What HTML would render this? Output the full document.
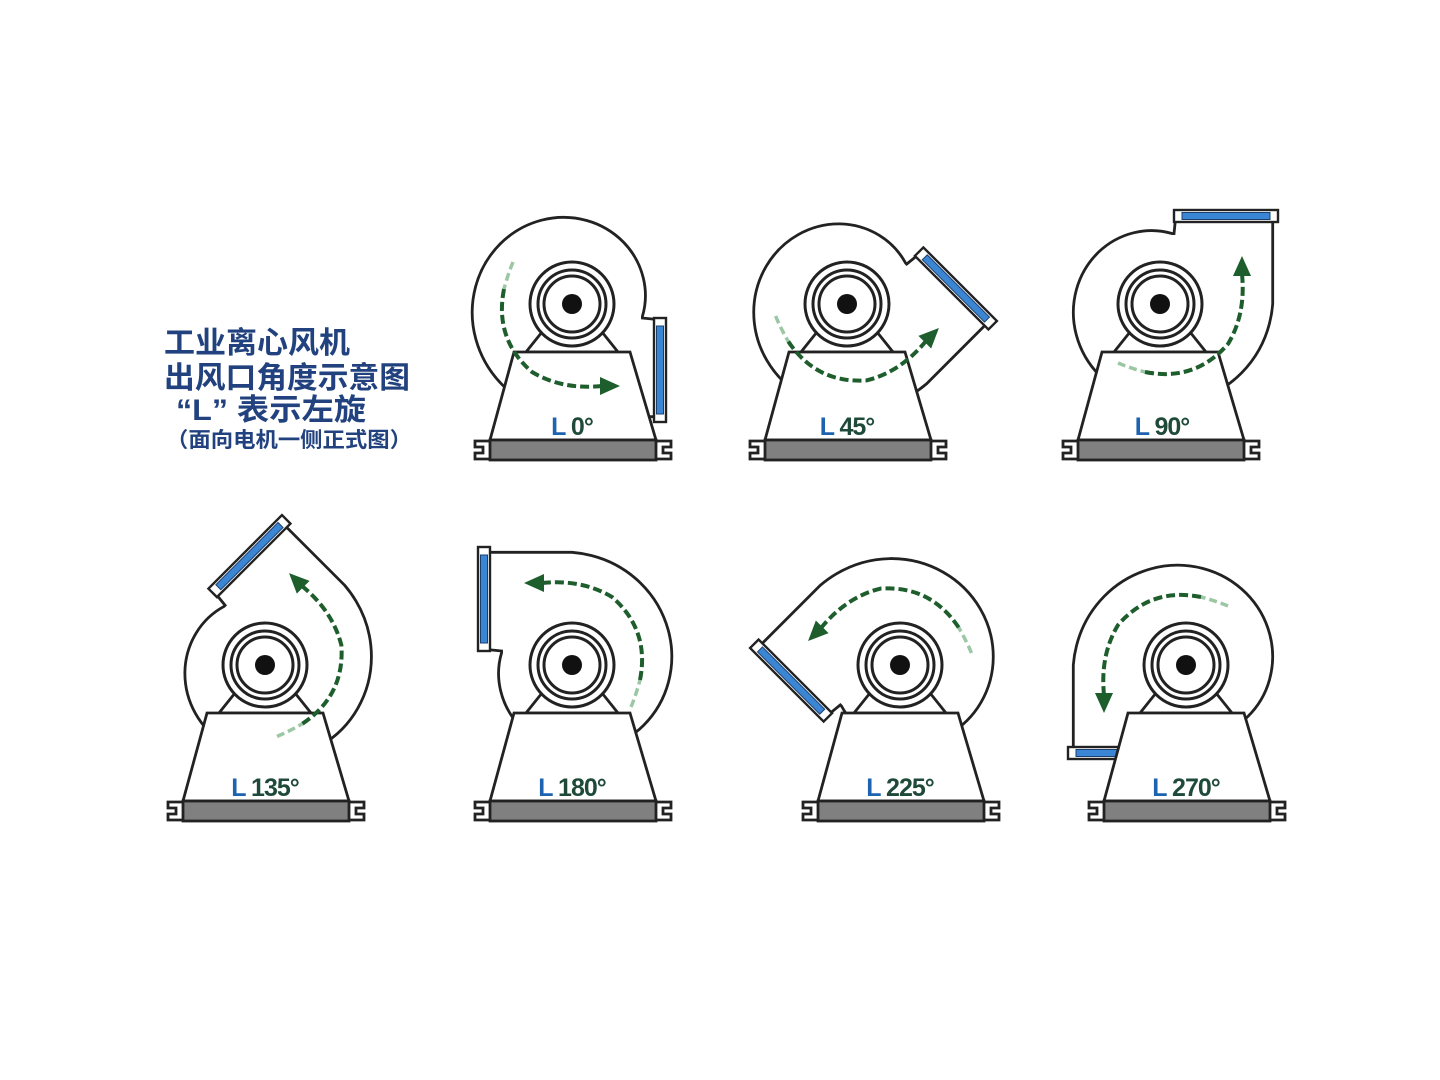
<!DOCTYPE html>
<html><head><meta charset="utf-8"><style>
html,body{margin:0;padding:0;background:#fff;}
svg{display:block;}
.t{font-family:"Liberation Sans","Noto Sans CJK SC",sans-serif;font-weight:bold;fill:#22427f;}
.lb{font-family:"Liberation Sans",sans-serif;font-size:25px;font-weight:bold;letter-spacing:-1px;}
</style></head><body>
<svg width="1440" height="1080" viewBox="0 0 1440 1080" xmlns="http://www.w3.org/2000/svg">
<defs>
<g id="scroll">
 <path d="M90,16 L70.4,14 L70.4,12.4 A73.7,73.7 0 0 0 71.3,-26 A78,78 0 0 0 51.7,-61.6 A82.6,82.6 0 0 0 14.7,-83.5 A87,87 0 0 0 -30.5,-83.8 A91.4,91.4 0 0 0 -71.7,-60.2 A95.8,95.8 0 0 0 -96.5,-17 A100.2,100.2 0 0 0 -96.2,35 A104.6,104.6 0 0 0 -68.7,81.8 A109,109 0 0 0 -19.3,109.5 A112,112 0 0 0 0,112.7 L90,112.7 Z" fill="#fff" stroke="#222" stroke-width="2.8"/>
 <rect x="82" y="14" width="12" height="104" fill="#fff" stroke="#222" stroke-width="2.4"/>
 <rect x="84.5" y="22" width="7" height="88" fill="#3b86d4" stroke="#1b3f6e" stroke-width="1"/>
</g>
<g id="arrow">
 <path d="M-59,-42 Q-64,-30 -68,-15" fill="none" stroke="#9cc7a4" stroke-width="3.5" stroke-dasharray="8 4"/>
 <path d="M-68,-15 Q-78,35 -40,68 Q-10,86 30,82" fill="none" stroke="#1d5e2c" stroke-width="4" stroke-dasharray="9 4"/>
 <path d="M28,73 L48,82 L28,91 Z" fill="#1d5e2c"/>
</g>
<g id="base">
 <polygon points="-30,28 30,28 46,48 -46,48" fill="#fff" stroke="#222" stroke-width="2.8"/>
 <circle r="42" fill="#fff" stroke="#222" stroke-width="3"/>
 <circle r="34" fill="#fff" stroke="#222" stroke-width="3"/>
 <circle r="28" fill="#fff" stroke="#222" stroke-width="3"/>
 <circle r="10" fill="#111"/>
 <polygon points="-58,48 58,48 84,136 -82,136" fill="#fff" stroke="#222" stroke-width="2.8"/>
 <rect x="-82" y="136" width="166" height="20" fill="#808080" stroke="#222" stroke-width="2.8"/>
 <path d="M-82,137 H-97 V143 H-89 V149 H-97 V155 H-82" fill="none" stroke="#222" stroke-width="2.8"/>
 <path d="M84,137 H99 V143 H91 V149 H99 V155 H84" fill="none" stroke="#222" stroke-width="2.8"/>
</g>
</defs>

<text class="t" x="164" y="353" font-size="30" textLength="186" lengthAdjust="spacingAndGlyphs">工业离心风机</text>
<text class="t" x="164" y="388" font-size="30" textLength="246" lengthAdjust="spacingAndGlyphs">出风口角度示意图</text>
<text class="t" x="176" y="420" font-size="30" textLength="190" lengthAdjust="spacingAndGlyphs">“L” 表示左旋</text>
<text class="t" x="166" y="447" font-size="21" textLength="246" lengthAdjust="spacingAndGlyphs">（面向电机一侧正式图）</text>

<g transform="translate(572,304)">
 <use href="#scroll"/><use href="#base"/><use href="#arrow"/>
 <text class="lb" x="0" y="131" text-anchor="middle"><tspan fill="#1e63b0">L</tspan><tspan fill="#1f4a3a"> 0°</tspan></text>
</g>
<g transform="translate(847,304)">
 <use href="#scroll" transform="rotate(-45)"/><use href="#base"/><use href="#arrow" transform="rotate(-45)"/>
 <text class="lb" x="0" y="131" text-anchor="middle"><tspan fill="#1e63b0">L</tspan><tspan fill="#1f4a3a"> 45°</tspan></text>
</g>
<g transform="translate(1160,304)">
 <use href="#scroll" transform="rotate(-90)"/><use href="#base"/><use href="#arrow" transform="rotate(-90)"/>
 <text class="lb" x="2" y="131" text-anchor="middle"><tspan fill="#1e63b0">L</tspan><tspan fill="#1f4a3a"> 90°</tspan></text>
</g>
<g transform="translate(265,665)">
 <use href="#scroll" transform="rotate(-135)"/><use href="#base"/><use href="#arrow" transform="rotate(-135)"/>
 <text class="lb" x="0" y="131" text-anchor="middle"><tspan fill="#1e63b0">L</tspan><tspan fill="#1f4a3a"> 135°</tspan></text>
</g>
<g transform="translate(572,665)">
 <use href="#scroll" transform="rotate(-180)"/><use href="#base"/><use href="#arrow" transform="rotate(-180)"/>
 <text class="lb" x="0" y="131" text-anchor="middle"><tspan fill="#1e63b0">L</tspan><tspan fill="#1f4a3a"> 180°</tspan></text>
</g>
<g transform="translate(900,665)">
 <use href="#scroll" transform="rotate(-225)"/><use href="#base"/><use href="#arrow" transform="rotate(-225)"/>
 <text class="lb" x="0" y="131" text-anchor="middle"><tspan fill="#1e63b0">L</tspan><tspan fill="#1f4a3a"> 225°</tspan></text>
</g>
<g transform="translate(1186,665)">
 <use href="#scroll" transform="rotate(-270)"/><use href="#base"/><use href="#arrow" transform="rotate(-270)"/>
 <text class="lb" x="0" y="131" text-anchor="middle"><tspan fill="#1e63b0">L</tspan><tspan fill="#1f4a3a"> 270°</tspan></text>
</g>
</svg>
</body></html>
